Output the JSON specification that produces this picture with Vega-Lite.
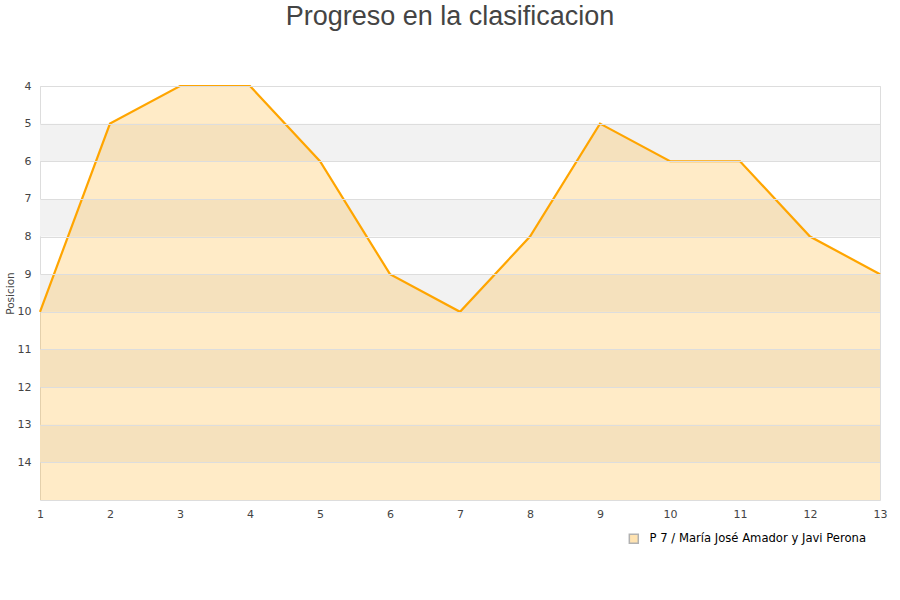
{
  "$schema": "https://vega.github.io/schema/vega-lite/v6.json",
  "autosize": {"type": "none"},
  "width": 840,
  "height": 414,
  "padding": {"left": 40, "top": 86, "right": 20, "bottom": 100},
  "background": "white",
  "title": {
    "text": "Progreso en la clasificacion",
    "font": "Liberation Sans",
    "fontSize": 27,
    "fontWeight": "normal",
    "color": "#444444",
    "anchor": "middle",
    "dx": -10,
    "offset": 49
  },
  "config": {
    "view": {"stroke": "#dddddd"},
    "axis": {
      "labelFont": "DejaVu Sans",
      "labelFontSize": 11,
      "labelColor": "#444444",
      "titleFont": "DejaVu Sans",
      "titleFontSize": 11,
      "titleFontWeight": "normal",
      "titleColor": "#444444"
    }
  },
  "datasets": {
    "bands": [
      {"y": 5, "y2": 6},
      {"y": 7, "y2": 8},
      {"y": 9, "y2": 10},
      {"y": 11, "y2": 12},
      {"y": 13, "y2": 14}
    ],
    "serie": [
      {"jornada": 1, "posicion": 10, "equipo": "P 7 / María José Amador y Javi Perona"},
      {"jornada": 2, "posicion": 5, "equipo": "P 7 / María José Amador y Javi Perona"},
      {"jornada": 3, "posicion": 4, "equipo": "P 7 / María José Amador y Javi Perona"},
      {"jornada": 4, "posicion": 4, "equipo": "P 7 / María José Amador y Javi Perona"},
      {"jornada": 5, "posicion": 6, "equipo": "P 7 / María José Amador y Javi Perona"},
      {"jornada": 6, "posicion": 9, "equipo": "P 7 / María José Amador y Javi Perona"},
      {"jornada": 7, "posicion": 10, "equipo": "P 7 / María José Amador y Javi Perona"},
      {"jornada": 8, "posicion": 8, "equipo": "P 7 / María José Amador y Javi Perona"},
      {"jornada": 9, "posicion": 5, "equipo": "P 7 / María José Amador y Javi Perona"},
      {"jornada": 10, "posicion": 6, "equipo": "P 7 / María José Amador y Javi Perona"},
      {"jornada": 11, "posicion": 6, "equipo": "P 7 / María José Amador y Javi Perona"},
      {"jornada": 12, "posicion": 8, "equipo": "P 7 / María José Amador y Javi Perona"},
      {"jornada": 13, "posicion": 9, "equipo": "P 7 / María José Amador y Javi Perona"}
    ]
  },
  "layer": [
    {
      "data": {"name": "bands"},
      "mark": {"type": "rect", "color": "#f2f2f2"},
      "encoding": {
        "y": {
          "field": "y",
          "type": "quantitative",
          "scale": {"domain": [4, 15], "reverse": true, "nice": false, "zero": false},
          "axis": {
            "values": [4, 5, 6, 7, 8, 9, 10, 11, 12, 13, 14],
            "title": "Posicion",
            "titleFontSize": 10.5,
            "titlePadding": 2,
            "grid": true,
            "gridColor": "#dddddd",
            "domain": false,
            "ticks": false,
            "labelPadding": 9,
            "labelFlush": false,
            "zindex": 1
          }
        },
        "y2": {"field": "y2"}
      }
    },
    {
      "data": {"name": "serie"},
      "mark": {"type": "area", "opacity": 0.22, "interpolate": "linear"},
      "encoding": {
        "x": {
          "field": "jornada",
          "type": "quantitative",
          "scale": {"domain": [1, 13], "nice": false, "zero": false},
          "axis": {"values": [1, 2, 3, 4, 5, 6, 7, 8, 9, 10, 11, 12, 13], "title": null, "grid": false, "domain": false, "ticks": false, "labelPadding": 8, "labelFlush": false, "format": "d"}
        },
        "y": {"field": "posicion", "type": "quantitative"},
        "y2": {"datum": 15},
        "color": {
          "field": "equipo",
          "type": "nominal",
          "scale": {"range": ["#ffa500"]},
          "legend": {
            "title": null,
            "orient": "none",
            "legendX": 588,
            "legendY": 447,
            "symbolType": "square",
            "symbolSize": 80,
            "symbolStrokeColor": "#000000",
            "symbolStrokeWidth": 1.5,
            "symbolOpacity": 0.3,
            "labelOffset": 10,
            "labelFont": "DejaVu Sans",
            "labelFontSize": 11.6,
            "labelColor": "#000000",
            "labelLimit": 400
          }
        }
      }
    },
    {
      "data": {"name": "serie"},
      "mark": {"type": "line", "color": "#ffa500", "strokeWidth": 2.2},
      "encoding": {
        "x": {"field": "jornada", "type": "quantitative"},
        "y": {"field": "posicion", "type": "quantitative"}
      }
    }
  ]
}
